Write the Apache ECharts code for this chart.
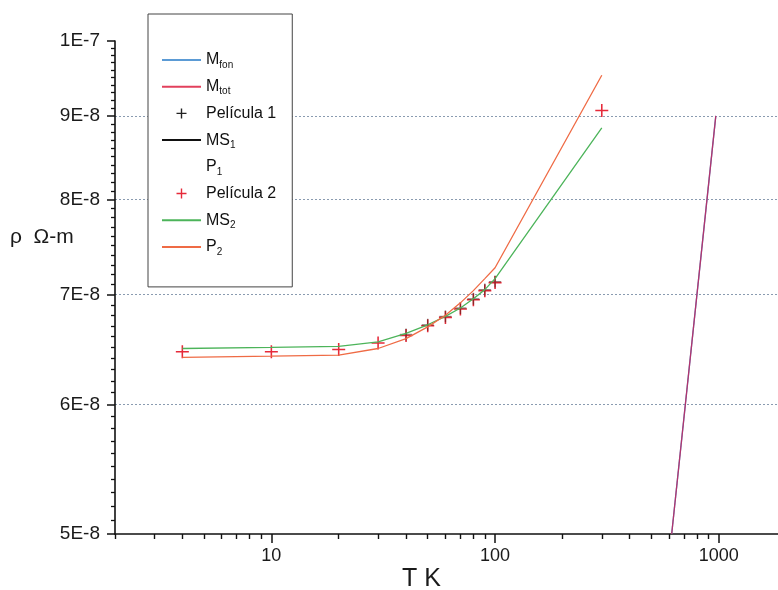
<!DOCTYPE html>
<html><head><meta charset="utf-8">
<script src="https://cdn.jsdelivr.net/npm/echarts@6/dist/echarts.min.js"></script>
<style>html,body{margin:0;padding:0;background:#fff}#c{width:778px;height:590px}</style>
</head><body><div id="c"></div>
<script>
// ---- data (T in K, rho in Ohm-m) ----
const temps = [4, 10, 20, 30, 40, 50, 60, 70, 80, 90, 100, 300];
const pelicula2 = [6.46e-8, 6.46e-8, 6.48e-8, 6.54e-8, 6.61e-8, 6.70e-8, 6.78e-8, 6.86e-8, 6.95e-8, 7.04e-8, 7.12e-8, 9.07e-8];
const ms2 = [6.49e-8, 6.50e-8, 6.51e-8, 6.55e-8, 6.63e-8, 6.71e-8, 6.79e-8, 6.87e-8, 6.96e-8, 7.05e-8, 7.16e-8, 8.85e-8];
const p2 = [6.41e-8, 6.42e-8, 6.43e-8, 6.49e-8, 6.58e-8, 6.69e-8, 6.80e-8, 6.92e-8, 7.04e-8, 7.16e-8, 7.27e-8, 9.53e-8];
const pelicula1T = [40, 50, 60, 70, 80, 90, 100];
const pelicula1 = [6.62e-8, 6.71e-8, 6.79e-8, 6.87e-8, 6.96e-8, 7.05e-8, 7.13e-8];
const mT = [616, 970];
const mFon = [5.0e-8, 9.0e-8];
const mTot = [5.0e-8, 9.0e-8];
// ---- axis ticks ----
const xMin = 2, xMax = 1840;
const xMajorTicks = [10, 100, 1000];
const xMinorTicks = [2, 3, 4, 5, 6, 7, 8, 9, 20, 30, 40, 50, 60, 70, 80, 90, 200, 300, 400, 500, 600, 700, 800, 900];
const yMajorTicks = [5e-8, 6e-8, 7e-8, 8e-8, 9e-8, 1e-7];
const yMinorSteps = [1, 2, 3, 4, 5, 6, 7, 8, 9];
const yMinorTicks = [];
[5, 6, 7, 8, 9].forEach(d => yMinorSteps.forEach(s => yMinorTicks.push((d * 10 + s) * 1e-9)));

const FONT = '"Liberation Sans", Arial, sans-serif';
const pair = (xs, ys) => xs.map((x, i) => [x, ys[i]]);
const plus = 'path://M4.4,0H5.6V10H4.4Z M0,4.4H10V5.6H0Z';
const legendPlus = 'path://M0,0M39,14M18.8,2H20.2V12H18.8Z M14.5,6.3H24.5V7.7H14.5Z';

const names = {
  'M_fon': 'M{s|fon}', 'M_tot': 'M{s|tot}', 'Película 1': 'Película 1', 'MS_1': 'MS{s|1}',
  'P_1': 'P{s|1}', 'Película 2': 'Película 2', 'MS_2': 'MS{s|2}', 'P_2': 'P{s|2}'
};
const noSym = {opacity: 0};

const chart = echarts.init(document.getElementById('c'), null, {renderer: 'canvas'});
const axisColor = '#111';
chart.setOption({
  animation: false,
  backgroundColor: '#fff',
  grid: {left: 115, right: 0, top: 41, bottom: 56, containLabel: false},
  xAxis: [{
    type: 'log', logBase: 10, min: xMin, max: xMax, position: 'bottom',
    axisLine: {lineStyle: {color: axisColor, width: 1.6}},
    axisTick: {customValues: xMajorTicks, length: 9, lineStyle: {color: axisColor, width: 1.5}},
    axisLabel: {customValues: xMajorTicks, margin: 13, fontSize: 18, fontFamily: FONT, color: '#1a1a1a',
      formatter: v => String(Math.round(v))},
    splitLine: {show: false}
  }, {
    type: 'log', logBase: 10, min: xMin, max: xMax, position: 'bottom',
    axisLine: {show: false},
    axisTick: {customValues: xMinorTicks, length: 5, lineStyle: {color: axisColor, width: 1.4}},
    axisLabel: {show: false}, splitLine: {show: false}
  }],
  yAxis: [{
    type: 'log', logBase: 10, min: 5e-8, max: 1e-7, position: 'left',
    axisLine: {lineStyle: {color: axisColor, width: 1.6}},
    axisTick: {customValues: yMajorTicks, length: 8, lineStyle: {color: axisColor, width: 1.5}},
    axisLabel: {customValues: yMajorTicks, margin: 15, fontSize: 19, fontFamily: FONT, color: '#1a1a1a',
      formatter: v => { const m = Math.round(v * 1e8); return m >= 10 ? '1E-7' : m + 'E-8'; }},
    splitLine: {show: false}
  }, {
    type: 'log', logBase: 10, min: 5e-8, max: 1e-7, position: 'left',
    axisLine: {show: false},
    axisTick: {customValues: yMinorTicks, length: 4, lineStyle: {color: axisColor, width: 1.3}},
    axisLabel: {show: false}, splitLine: {show: false}
  }, {
    type: 'log', logBase: 10, min: 5e-8, max: 1e-7, position: 'left',
    axisLine: {show: false}, axisTick: {customValues: yMajorTicks, show: false},
    axisLabel: {show: false},
    splitLine: {show: true, showMinLine: false, showMaxLine: false,
      lineStyle: {color: '#8a9bb0', type: [2, 2], width: 1}}
  }],
  legend: {
    orient: 'vertical', left: 148, top: 14,
    padding: [36, 16, 30, 13], itemGap: 6.7, itemWidth: 39, itemHeight: 14,
    borderColor: '#444', borderWidth: 1, backgroundColor: '#fff',
    selectedMode: false,
    formatter: n => names[n] || n,
    textStyle: {fontFamily: FONT, fontSize: 16, color: '#111', lineHeight: 20,
      rich: {s: {fontFamily: FONT, fontSize: 10, lineHeight: 5, verticalAlign: 'bottom', color: '#111'}}},
    data: [
      {name: 'M_fon', itemStyle: noSym},
      {name: 'M_tot', itemStyle: noSym, lineStyle: {color: '#e2405c'}},
      {name: 'Película 1', icon: legendPlus, itemStyle: {color: '#222', opacity: 1}},
      {name: 'MS_1', itemStyle: noSym},
      {name: 'P_1', itemStyle: noSym},
      {name: 'Película 2', icon: legendPlus, itemStyle: {color: '#e62a3a', opacity: 1}},
      {name: 'MS_2', itemStyle: noSym},
      {name: 'P_2', itemStyle: noSym}
    ]
  },
  graphic: [
    {type: 'text', left: 10, top: 227, style: {text: 'ρ  Ω-m', font: '21px ' + FONT, fill: '#1a1a1a'}},
    {type: 'text', left: 402, top: 567, style: {text: 'T K', font: '25px ' + FONT, fill: '#1a1a1a'}}
  ],
  series: [
    {name: 'M_fon', type: 'line', data: pair(mT, mFon), symbol: 'none', color: '#5b9bd5',
      lineStyle: {color: '#5b9bd5', width: 1.3}},
    {name: 'M_tot', type: 'line', data: pair(mT, mTot), symbol: 'none', color: '#b3346c',
      lineStyle: {color: '#b3346c', width: 1.3}},
    {name: 'MS_1', type: 'line', data: [], symbol: 'none', color: '#111', lineStyle: {color: '#111', width: 1.3}},
    {name: 'P_1', type: 'line', data: [], symbol: 'none', color: 'rgba(0,0,0,0)', lineStyle: {color: 'rgba(0,0,0,0)'}},
    {name: 'MS_2', type: 'line', data: pair(temps, ms2), symbol: 'none', color: '#4cb45a',
      lineStyle: {color: '#4cb45a', width: 1.3}},
    {name: 'P_2', type: 'line', data: pair(temps, p2), symbol: 'none', color: '#ef6b45',
      lineStyle: {color: '#ef6b45', width: 1.3}},
    {name: 'Película 2', type: 'scatter', data: pair(temps, pelicula2), symbol: plus, symbolSize: 13,
      itemStyle: {color: '#e62a3a', opacity: 1}},
    {name: 'Película 1', type: 'scatter', data: pair(pelicula1T, pelicula1), symbol: plus, symbolSize: 12,
      itemStyle: {color: '#2a1a10', opacity: 0.45}}
  ]
});
</script></body></html>
